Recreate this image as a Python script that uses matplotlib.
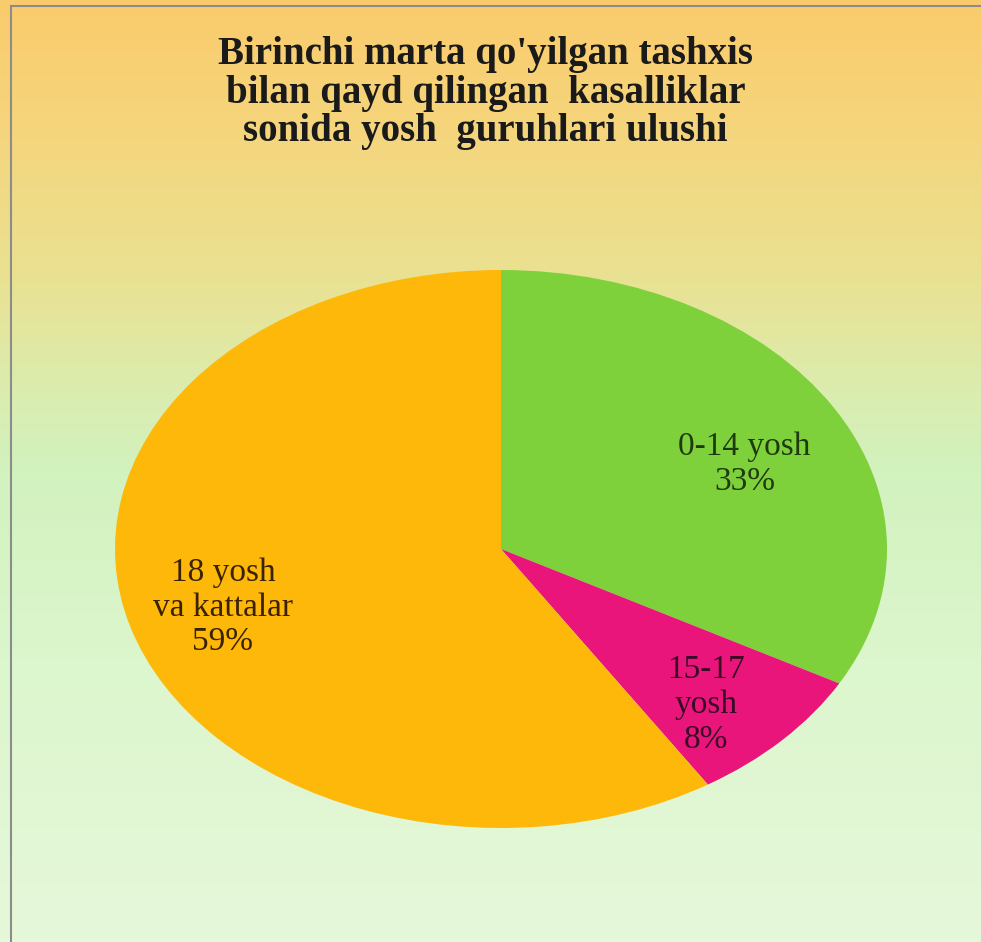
import numpy as np
import matplotlib
matplotlib.use("Agg")
import matplotlib.pyplot as plt
from matplotlib.colors import LinearSegmentedColormap

title = "Birinchi marta qo'yilgan tashxis\nbilan qayd qilingan  kasalliklar\nsonida yosh  guruhlari ulushi"
categories = ["0-14 yosh", "15-17\nyosh", "18 yosh\nva kattalar"]
shares = [33, 8, 59]
colors = ["#7FD13B", "#EA157A", "#FEB80A"]
label_colors = ["#1E3A0E", "#3A0A26", "#3A2200"]

W, H = 981, 942
fig = plt.figure(figsize=(W / 100, H / 100), dpi=100)

# background gradient
bg = fig.add_axes([0, 0, 1, 1])
bg.set_axis_off()
stops = [(0.0, "#FACB6C"), (0.12, "#F6D47A"), (0.3, "#E9E293"),
         (0.42, "#DAEDB0"), (0.5, "#D2F2BE"), (0.7, "#DCF6CD"), (1.0, "#E6F8DA")]
cmap = LinearSegmentedColormap.from_list("bg", stops)
grad = np.linspace(0, 1, 256).reshape(-1, 1)
bg.imshow(grad, aspect="auto", cmap=cmap, extent=[0, 1, 0, 1], origin="upper")
bg.set_xlim(0, 1)
bg.set_ylim(0, 1)
# frame lines (left, top)
bg.plot([11 / W, 11 / W], [0, 1 - 6 / H], color="#8C8C8C", lw=1.5)
bg.plot([11 / W, 1], [1 - 6 / H, 1 - 6 / H], color="#8C8C8C", lw=1.5)

fig.text(0.495, 1 - 93 / H, title, ha="center", va="center",
         fontsize=28, fontweight="bold", family="Liberation Serif",
         color="#1A1A1A", linespacing=1.07)

ax = fig.add_axes([115 / W, (H - 828) / H, 772 / W, 558 / H])
wedges, _ = ax.pie(shares, colors=colors, startangle=90, counterclock=False,
                   radius=1.0, wedgeprops=dict(linewidth=0))
ax.set_aspect("auto")
ax.set_xlim(-1, 1)
ax.set_ylim(-1, 1)
ax.set_axis_off()

dist = [0.70, 0.77, 0.75]
ang_off = [-5.0, -3.2, 0.0]
start = 90.0
for i, (cat, s) in enumerate(zip(categories, shares)):
    span = 360.0 * s / sum(shares)
    mid = start - span / 2 + ang_off[i]
    start -= span
    r = dist[i]
    x = r * np.cos(np.radians(mid))
    y = r * np.sin(np.radians(mid))
    ax.text(x, y, f"{cat}\n{s}%", ha="center", va="center", fontsize=24,
            family="Liberation Serif", color=label_colors[i], linespacing=1.18)

fig.savefig("out.png", dpi=100)
